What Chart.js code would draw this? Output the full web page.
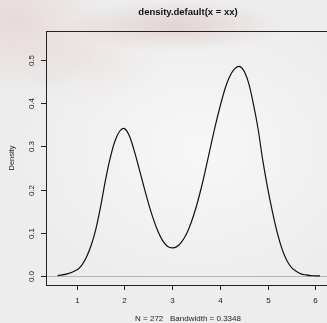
<!DOCTYPE html>
<html>
<head>
<meta charset="utf-8">
<script src="https://cdn.jsdelivr.net/npm/chart.js@4.4.0/dist/chart.umd.min.js"></script>
<style>
    html, body { margin: 0; padding: 0; overflow: hidden; width: 327px; height: 323px; }
    body {
        background:
            radial-gradient(ellipse 110px 26px at 175px 26px, rgba(175, 90, 90, 0.18), rgba(175, 90, 90, 0)),
            radial-gradient(ellipse 90px 80px at 15px 20px, rgba(215, 150, 150, 0.22), rgba(215, 150, 150, 0)),
            radial-gradient(ellipse 70px 45px at 90px 60px, rgba(225, 180, 180, 0.15), rgba(225, 180, 180, 0)),
            radial-gradient(ellipse 180px 140px at 200px 150px, #f7f7f7, rgba(247, 247, 247, 0)),
            #ededed;
    }
    canvas { display: block; }
</style>
</head>
<body>
<canvas id="densityChart" width="334" height="323"></canvas>
<script>
const densityX = [0.6, 0.8, 1.0, 1.1, 1.2, 1.3, 1.4, 1.5, 1.6, 1.7, 1.8, 1.9, 2.0, 2.1, 2.2, 2.3, 2.4, 2.5, 2.6, 2.7, 2.8, 2.9,
    3.0, 3.1, 3.2, 3.3, 3.4, 3.5, 3.6, 3.7, 3.8, 3.9, 4.0, 4.1, 4.2, 4.3, 4.4, 4.5, 4.6, 4.7, 4.8, 4.9,
    5.0, 5.1, 5.2, 5.3, 5.4, 5.5, 5.6, 5.7, 5.8, 5.9, 6.0, 6.1];
const densityY = [0.001, 0.005, 0.014, 0.024, 0.043, 0.070, 0.108, 0.160, 0.220, 0.272, 0.312, 0.335, 0.341, 0.325, 0.292, 0.252, 0.210, 0.170, 0.134, 0.104, 0.082, 0.069,
    0.065, 0.068, 0.079, 0.097, 0.124, 0.158, 0.199, 0.246, 0.296, 0.345, 0.390, 0.430, 0.460, 0.478, 0.485, 0.476, 0.448, 0.400, 0.342, 0.268,
    0.205, 0.150, 0.102, 0.064, 0.037, 0.020, 0.011, 0.005, 0.0025, 0.001, 0.0005, 0.0002];
const xTicks = [1, 2, 3, 4, 5, 6];
const yTicks = [0.0, 0.1, 0.2, 0.3, 0.4, 0.5];
const chartTitle = 'density.default(x = xx)';
const xAxisTitle = 'N = 272   Bandwidth = 0.3348';
const yAxisTitle = 'Density';

const points = densityX.map((x, i) => ({ x: x, y: densityY[i] }));

// R-style box, ticks and labels drawn off the chart's own scales
const rAxes = {
    id: 'rAxes',
    beforeDatasetsDraw(chart) {
        const ctx = chart.ctx;
        const ys = chart.scales.y;
        const area = chart.chartArea;
        ctx.save();
        // zero line
        ctx.strokeStyle = '#b4b4b4';
        ctx.lineWidth = 1;
        const y0 = Math.round(ys.getPixelForValue(0)) + 0.5;
        ctx.beginPath();
        ctx.moveTo(area.left, y0);
        ctx.lineTo(area.right, y0);
        ctx.stroke();
        ctx.restore();
    },
    afterDraw(chart) {
        const ctx = chart.ctx;
        const xs = chart.scales.x;
        const ys = chart.scales.y;
        const area = chart.chartArea;
        ctx.save();
        ctx.strokeStyle = '#222';
        ctx.lineWidth = 1;
        ctx.strokeRect(Math.round(area.left) + 0.5, Math.round(area.top) + 0.5,
            Math.round(area.right - area.left), Math.round(area.bottom - area.top));

        ctx.fillStyle = '#222';
        ctx.font = '8px "Liberation Sans", Arial, sans-serif';
        ctx.textAlign = 'center';
        ctx.textBaseline = 'middle';
        xTicks.forEach(v => {
            const px = Math.round(xs.getPixelForValue(v)) + 0.5;
            ctx.beginPath();
            ctx.moveTo(px, area.bottom);
            ctx.lineTo(px, area.bottom + 5);
            ctx.stroke();
            ctx.fillText(String(v), px, area.bottom + 16);
        });
        yTicks.forEach(v => {
            const py = Math.round(ys.getPixelForValue(v)) + 0.5;
            ctx.beginPath();
            ctx.moveTo(area.left, py);
            ctx.lineTo(area.left - 5, py);
            ctx.stroke();
            ctx.save();
            ctx.translate(area.left - 14, py);
            ctx.rotate(-Math.PI / 2);
            ctx.fillText(v.toFixed(1), 0, 0);
            ctx.restore();
        });

        const cx = (area.left + area.right) / 2;
        ctx.font = 'bold 9.5px "Liberation Sans", Arial, sans-serif';
        ctx.fillStyle = '#111';
        ctx.fillText(chartTitle, cx, 12);

        ctx.font = '8px "Liberation Sans", Arial, sans-serif';
        ctx.fillStyle = '#222';
        ctx.fillText(xAxisTitle, cx, 319);

        ctx.save();
        ctx.translate(12, (area.top + area.bottom) / 2);
        ctx.rotate(-Math.PI / 2);
        ctx.font = '7.5px "Liberation Sans", Arial, sans-serif';
        ctx.fillText(yAxisTitle, 0, 0);
        ctx.restore();
        ctx.restore();
    }
};

new Chart(document.getElementById('densityChart'), {
    type: 'scatter',
    data: {
        datasets: [{
            data: points,
            showLine: true,
            borderColor: '#111',
            borderWidth: 1.2,
            pointRadius: 0,
            tension: 0.35,
            fill: false
        }]
    },
    options: {
        responsive: false,
        animation: false,
        layout: { padding: { left: 46, top: 31, right: 4, bottom: 38 } },
        plugins: {
            legend: { display: false },
            tooltip: { enabled: false }
        },
        scales: {
            x: { type: 'linear', min: 0.356, max: 6.31, display: false },
            y: { min: -0.0208, max: 0.567, display: false }
        }
    },
    plugins: [rAxes]
});
</script>
</body>
</html>
